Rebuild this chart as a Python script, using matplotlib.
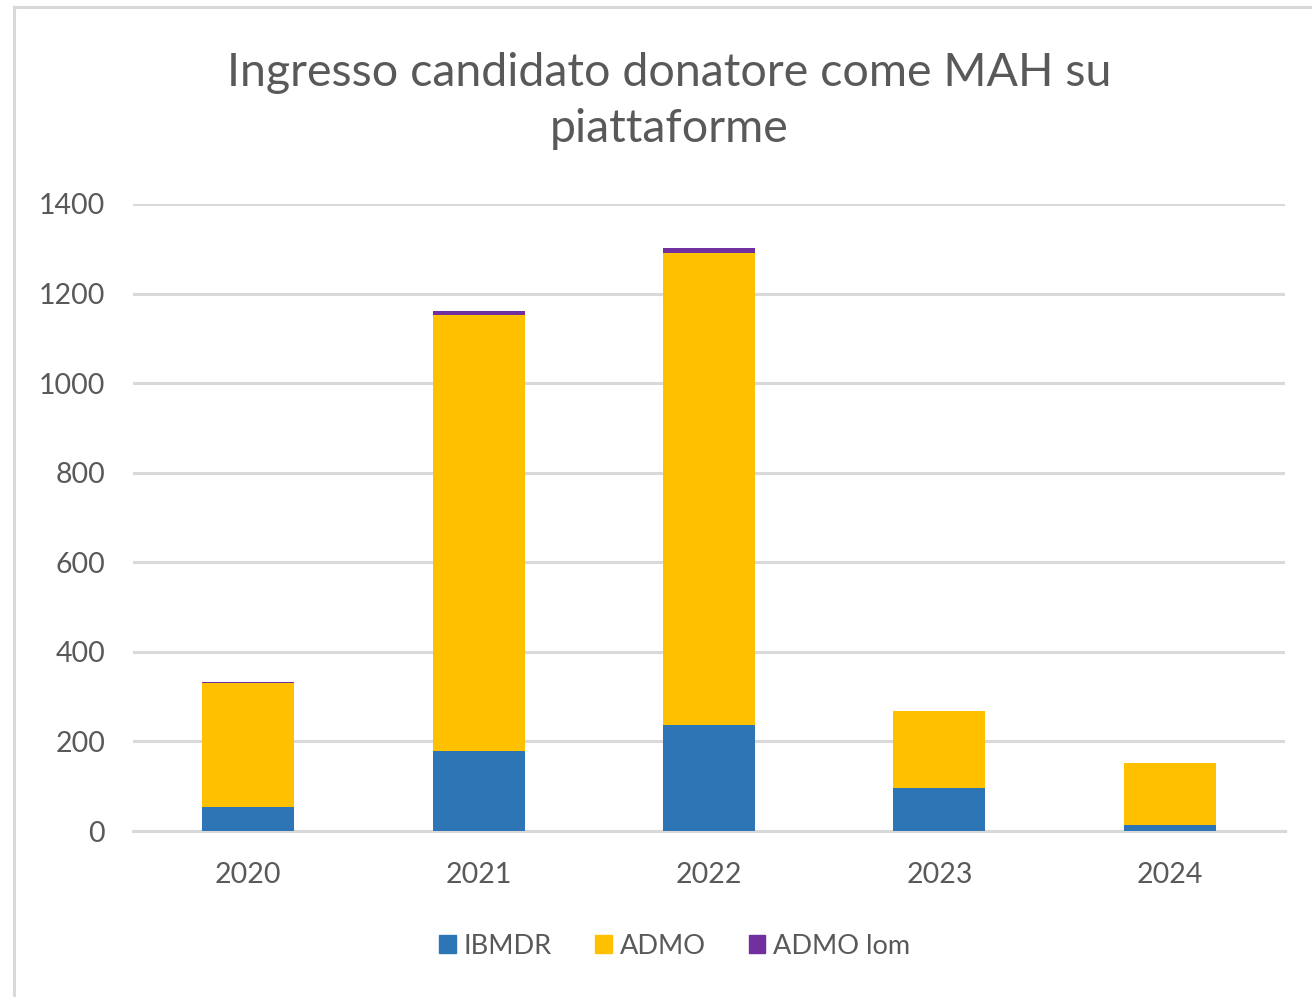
import matplotlib
matplotlib.use("Agg")
import matplotlib.pyplot as plt
from matplotlib.lines import Line2D
from matplotlib.patches import Patch

years = ["2020", "2021", "2022", "2023", "2024"]
ibmdr = [53, 178, 236, 96, 13]
admo = [277, 974, 1054, 172, 138]
admo_lom = [3, 8, 12, 0, 0]
yticks = [0, 200, 400, 600, 800, 1000, 1200, 1400]

c_ibmdr = "#2e75b6"
c_admo = "#ffc000"
c_lom = "#7030a0"
grid_c = "#d9d9d9"
text_c = "#595959"

plt.rcParams["font.family"] = ["Lato", "DejaVu Sans"]

W, H = 1312, 997
fig = plt.figure(figsize=(W / 100, H / 100), dpi=100)
ax = fig.add_axes([133 / W, 1 - 831 / H, (1285 - 133) / W, (831 - 204) / H])

x = list(range(len(years)))
bw = 0.4
ax.bar(x, ibmdr, width=bw, color=c_ibmdr, label="IBMDR", zorder=3)
bot2 = [a for a in ibmdr]
ax.bar(x, admo, width=bw, bottom=bot2, color=c_admo, label="ADMO", zorder=3)
bot3 = [a + b for a, b in zip(ibmdr, admo)]
ax.bar(x, admo_lom, width=bw, bottom=bot3, color=c_lom, label="ADMO lom", zorder=3)

ax.set_xlim(-0.5, len(years) - 0.5)
ax.set_ylim(0, 1400)
ax.set_yticks(yticks)
ax.set_xticks(x)
ax.set_xticklabels(years)
ax.yaxis.grid(True, color=grid_c, linewidth=2.2, zorder=0)
ax.set_axisbelow(True)
for s in ["top", "right", "left"]:
    ax.spines[s].set_visible(False)
ax.spines["bottom"].set_color(grid_c)
ax.spines["bottom"].set_linewidth(2.2)
ax.tick_params(axis="both", length=0, labelsize=20.5, colors=text_c)
ax.tick_params(axis="y", pad=20)
ax.tick_params(axis="x", pad=22)

fig.text(669 / W, 1 - 101 / H, "Ingresso candidato donatore come MAH su\npiattaforme",
         ha="center", va="center", fontsize=33.5, color=text_c, linespacing=1.42)

handles = [Patch(color=c_ibmdr, label="IBMDR"),
           Patch(color=c_admo, label="ADMO"),
           Patch(color=c_lom, label="ADMO lom")]
fig.legend(handles=handles, loc="center", bbox_to_anchor=(675 / W, 1 - 946 / H),
           ncol=3, frameon=False, fontsize=19.5, labelcolor=text_c,
           handlelength=0.6, handleheight=0.6, handletextpad=0.3, columnspacing=1.6)

# chart area border (top and left visible)
fig.add_artist(Line2D([13.5 / W, 13.5 / W], [0, 1 - 7.5 / H], transform=fig.transFigure,
                      color=grid_c, linewidth=2.2))
fig.add_artist(Line2D([13.5 / W, 1], [1 - 7.5 / H, 1 - 7.5 / H], transform=fig.transFigure,
                      color=grid_c, linewidth=2.2))

fig.savefig("out.png", dpi=100, facecolor="white")
